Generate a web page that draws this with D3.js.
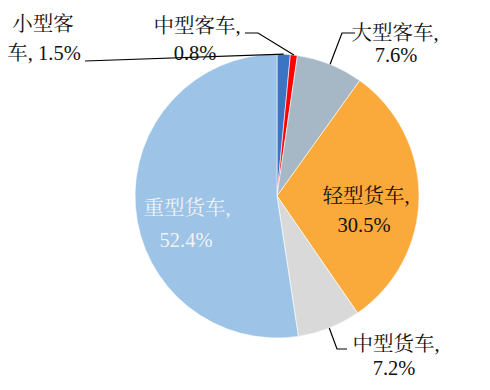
<!DOCTYPE html>
<html><head><meta charset="utf-8">
<script src="https://cdn.jsdelivr.net/npm/d3@7"></script>
<style>
html,body{margin:0;padding:0;background:#fff;}
</style></head>
<body><svg id="c" width="490" height="390"></svg>
<script>
const categories = ["小型客车","中型客车","大型客车","轻型货车","中型货车","重型货车"];
const values = [1.5, 0.8, 7.6, 30.5, 7.2, 52.4];
const colors = ["#3B74C3","#FF0000","#A6B7C6","#F9AA3B","#D9D9D9","#9DC3E6"];
const labelLines = [["小型客","车, 1.5%"],["中型客车,","0.8%"],["大型客车,","7.6%"],["轻型货车,","30.5%"],["中型货车,","7.2%"],["重型货车,","52.4%"]];

const FONT = '"Liberation Serif","Noto Serif CJK SC","Noto Sans CJK SC",serif';
const svg = d3.select("#c");
const cx = 277, cy = 196, R = 142;
const g = svg.append("g").attr("transform", `translate(${cx},${cy})`);
const pie = d3.pie().sort(null).value(d => d)(values);
const arc = d3.arc().innerRadius(0).outerRadius(R);
g.selectAll("path").data(pie).join("path")
  .attr("d", arc).attr("fill", (d,i) => colors[i])
  .attr("stroke", "#fff").attr("stroke-width", 0.6);

function edge(d){ const a=(d.startAngle+d.endAngle)/2; return [cx+R*Math.sin(a), cy-R*Math.cos(a)]; }

const labelCfg = [
  {x:[43,44], y:[31,60], fill:"#111", leader:(p)=>[[85,61],p]},
  {x:[197,195], y:[33,60], fill:"#111", leader:(p)=>[[245,33],[258,33],p]},
  {x:[395,396], y:[40,62], fill:"#111", leader:(p)=>[[355,33],[342,33],p]},
  {x:[366,364], y:[203,232], fill:"#111", leader:null},
  {x:[396,394], y:[351,375], fill:"#111", leader:(p)=>[[347,349],[337,349],p]},
  {x:[187,186], y:[215,247], fill:"#F2F2F2", leader:null}
];
const line = d3.line();
pie.forEach((d,i)=>{
  const c = labelCfg[i];
  if(c.leader){
    svg.append("path").attr("d", line(c.leader(edge(d)))).attr("fill","none")
      .attr("stroke","#000").attr("stroke-width",1.2);
  }
  labelLines[i].forEach((t,j)=>{
    svg.append("text").attr("x",c.x[j]).attr("y",c.y[j]).attr("text-anchor","middle")
      .attr("fill",c.fill).style("font-family",FONT).style("font-size","20.5px").text(t);
  });
});
</script></body></html>
